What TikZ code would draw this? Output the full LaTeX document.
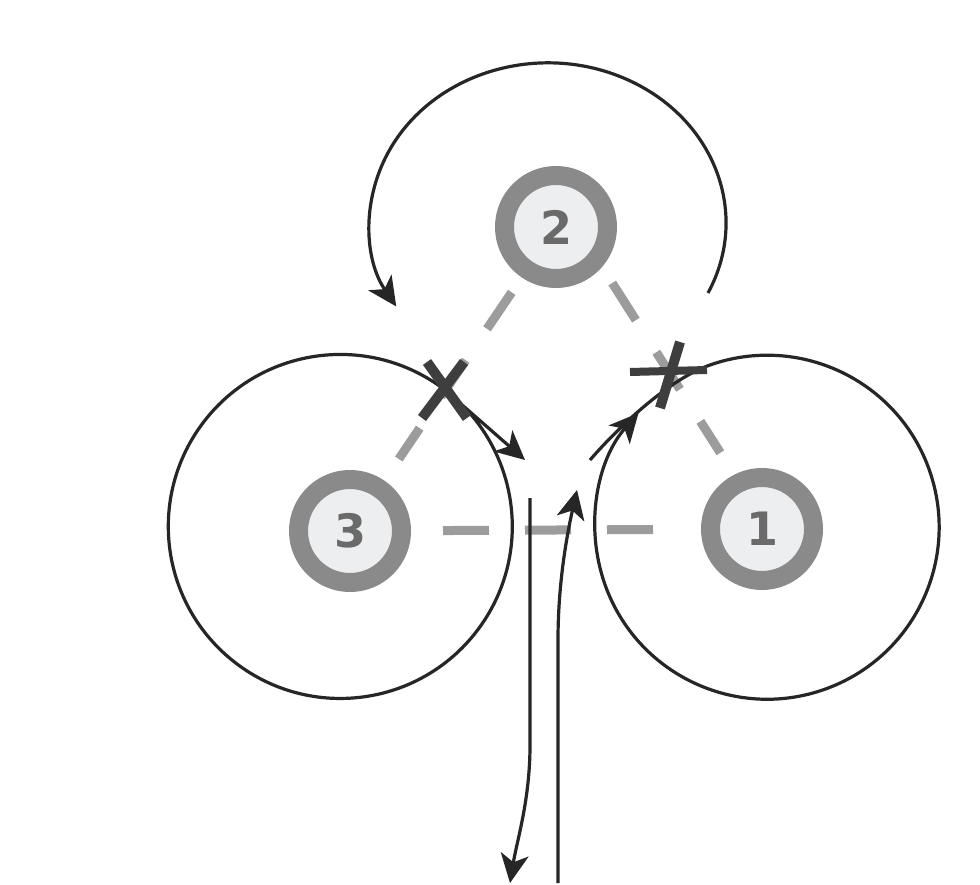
\documentclass[tikz,border=0pt]{standalone}
\usepackage{fontspec}
\newfontfamily\numfont{DejaVu Sans}
\usetikzlibrary{arrows.meta}
\definecolor{ring}{HTML}{8A8A8A}
\definecolor{inner}{HTML}{ECEEF0}
\definecolor{numc}{HTML}{6A6A6A}
\definecolor{ink}{HTML}{262626}
\definecolor{dashc}{HTML}{9C9C9C}
\definecolor{xc}{HTML}{3E3E3E}
\begin{document}
\begin{tikzpicture}[x=1pt,y=-1pt,
  station/.style={circle, draw=ring, line width=19pt, fill=inner, minimum size=103pt, inner sep=0pt, text=numc, font=\numfont\bfseries\fontsize{46pt}{46pt}\selectfont},
  link/.style={draw=dashc, line width=9pt, dash pattern=on 44pt off 38pt},
  flow/.style={draw=ink, line width=3.2pt, -{Stealth[length=29pt,width=28pt,inset=8pt,fill=ink]}},
  xmark/.style={draw=xc, line width=10pt}]
\useasboundingbox[fill=white] (0,0) rectangle (980,885);
% stations
\node[station] (n2) at (556,227) {2};
\node[station] (n3) at (350,531) {3};
\node[station] (n1) at (762,529) {1};
% dashed links
\draw[link, shorten <=18pt, shorten >=26pt] (n2) -- (n3);
\draw[link, shorten <=19pt, shorten >=26pt] (n2.-41) -- (n1.117);
\draw[link, dash pattern=on 46pt off 36pt, shorten <=32pt, shorten >=46pt] (n3) -- (n1);
% coordinates
\coordinate (xl) at (445,390);
\coordinate (xr) at (670,373);
\coordinate (ltip) at (525,460);
\coordinate (rstart) at (590,460);
\coordinate (rjoin) at (710,365);
\coordinate (tstart) at (708,293);
\coordinate (dtop) at (530,498);
\coordinate (dend) at (510,883);
\coordinate (ubot) at (558,883);
\coordinate (utip) at (577,490);
% flows
\draw[flow] (tstart) arc[start angle=26, end angle=-211.5, x radius=178, y radius=160];
\draw[flow] (xl) arc[start angle=-52.5, delta angle=360, radius=172] -- (ltip);
\draw[flow] (rstart) .. controls (623,422) and (672,378) .. (rjoin) arc[start angle=-109.4, delta angle=331, radius=172];
\draw[flow] (dtop) -- (530,745) .. controls (530,800) and (517,840) .. (dend);
\draw[flow] (ubot) -- (558,640) .. controls (558,580) and (568,530) .. (utip);
% crosses
\draw[xmark] (xl) ++(-18,-28) -- ++(40,56);
\draw[xmark] (xl) ++(19,-28) -- ++(-42,56);
\draw[xmark] (xr) ++(10,-31) -- ++(-20,66);
\draw[xmark, line width=8pt] (xr) ++(-40,-1) -- ++(77,-2);
\end{tikzpicture}
\end{document}
